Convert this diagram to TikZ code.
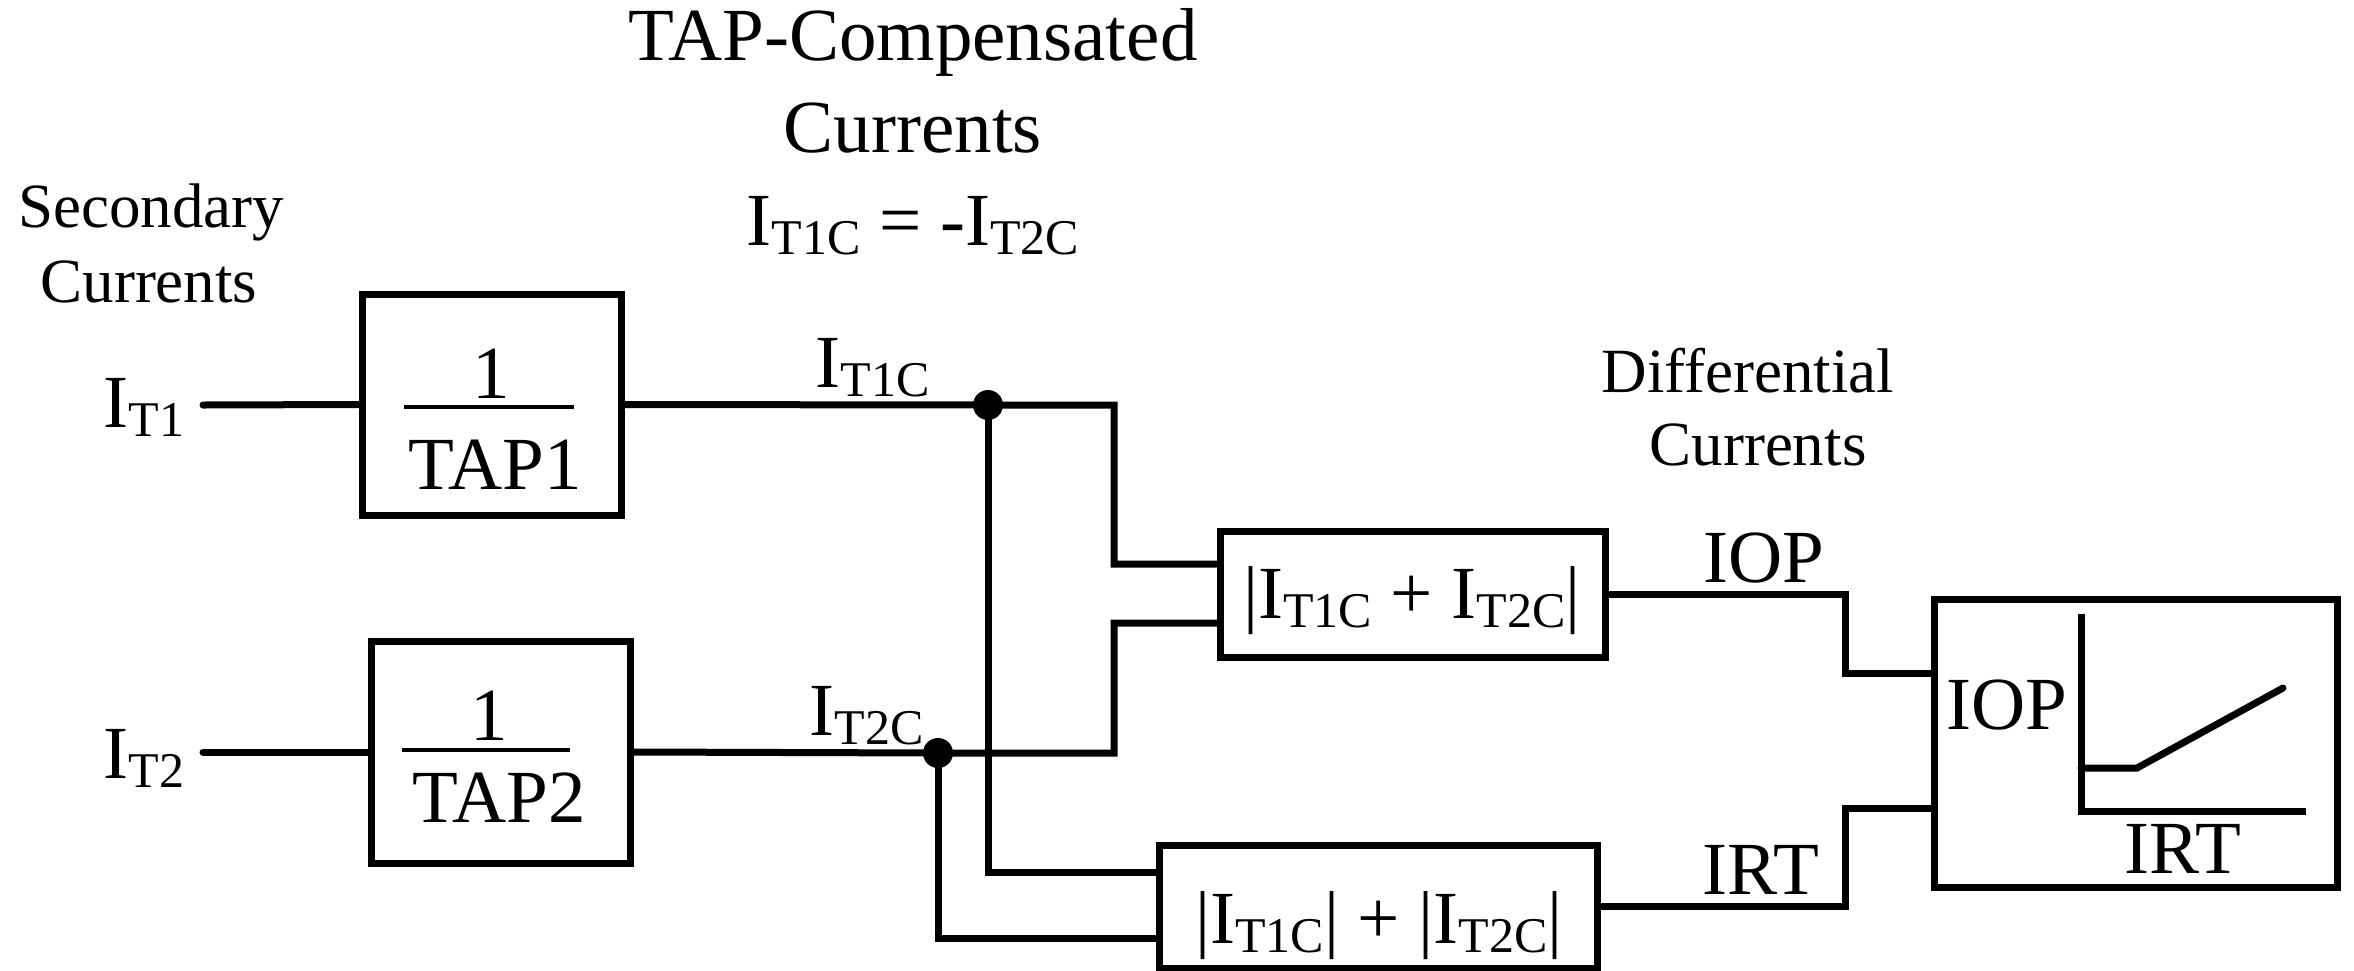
\documentclass[tikz,border=0pt]{standalone}
\usepackage{fontspec}
\setmainfont{Liberation Serif}
\newcommand{\subx}[1]{\raisebox{-0.13em}{\fontsize{50}{50}\selectfont #1}}
\begin{document}
\begin{tikzpicture}[x=1pt,y=-1pt,line width=7pt,line cap=round,
  lbl/.style={inner sep=0pt,font=\fontsize{75}{86}\selectfont},
  sml/.style={inner sep=0pt,font=\fontsize{63}{75}\selectfont},
  blk/.style={draw,line cap=butt,inner sep=0pt,anchor=center}]
\useasboundingbox (0,0) rectangle (2354,970);
% headings
\node[lbl,anchor=base] (h1) at (913,60) {TAP-Compensated};
\node[lbl,anchor=base] (h2) at (913,152) {Currents};
\node[lbl,anchor=base] (h3) at (913,245) {I\subx{T1C} = -I\subx{T2C}};
\node[sml,anchor=base] (s1) at (151,227) {Secondary};
\node[sml,anchor=base] (s2) at (149,302) {Currents};
\node[sml,anchor=base] (d1) at (1748,392) {Differential};
\node[sml,anchor=base] (d2) at (1758,465) {Currents};
% blocks
\node[blk,minimum width=259pt,minimum height=221pt] (tap1) at (491.5,404.5) {};
\node[blk,minimum width=259pt,minimum height=222pt] (tap2) at (500.5,752) {};
\node[blk,minimum width=385pt,minimum height=126pt] (sum1) at (1412.5,594) {};
\node[blk,minimum width=438pt,minimum height=123pt] (sum2) at (1378,906.5) {};
\node[blk,minimum width=403pt,minimum height=288pt] (char) at (2135.5,743) {};
% fractions
\node[lbl,anchor=base] (n1) at (491,398) {1};
\draw[line width=4.5pt,line cap=butt] (404,407) -- (574,407);
\node[lbl,anchor=base] (d1t) at (495,489) {TAP1};
\node[lbl,anchor=base] (n2) at (489,740) {1};
\draw[line width=4.5pt,line cap=butt] (402,750) -- (570,750);
\node[lbl,anchor=base] (d2t) at (499,822) {TAP2};
% block texts
\node[lbl,anchor=base] (t1) at (1412,618) {|I\subx{T1C} + I\subx{T2C}|};
\node[lbl,anchor=base] (t2) at (1379,943) {|I\subx{T1C}| + |I\subx{T2C}|};
% labels
\node[lbl,anchor=base west] (lit1) at (100,427) {I\subx{T1}};
\node[lbl,anchor=base west] (lit2) at (100,778) {I\subx{T2}};
\node[lbl,anchor=base west] (lt1c) at (812,387) {I\subx{T1C}};
\node[lbl,anchor=base west] (lt2c) at (806,735) {I\subx{T2C}};
\node[lbl,anchor=base] (liop) at (1764,582) {IOP};
\node[lbl,anchor=base] (lirt) at (1761,894) {IRT};
\node[lbl,anchor=base west] (ciop) at (1943,729) {IOP};
\node[lbl,anchor=base] (cirt) at (2183,873) {IRT};
% connectors
\coordinate (it1) at (203,405);
\coordinate (it2) at (203,752);
\coordinate (j1) at (988,405);
\coordinate (j2) at (938,753);
\draw (it1) -- (tap1.west);
\draw (it2) -- (tap2.west);
\draw[line join=miter] (tap1.east) -- (j1) -| (1114,564) -- ([yshift=30pt]sum1.west);
\draw[line join=miter] (tap2.east) -- (j2) -| (1114,623) -- ([yshift=-29pt]sum1.west);
\draw[line join=miter] (j1) |- ([yshift=34.5pt]sum2.west);
\draw[line join=miter] (j2) |- ([yshift=-31.5pt]sum2.west);
\draw[line join=miter] (sum1.east) -| (1845,673) -- ([yshift=70pt]char.west);
\draw[line join=miter] (sum2.east) -| (1845,808) -- ([yshift=-65pt]char.west);
\fill (j1) circle (15);
\fill (j2) circle (15);
% characteristic
\draw[line cap=butt,line join=miter] (2081,614) -- (2081,811) -- (2306,811);
\draw[line join=miter] (2081,768) -- (2137,768) -- (2283,688);
\end{tikzpicture}
\end{document}
